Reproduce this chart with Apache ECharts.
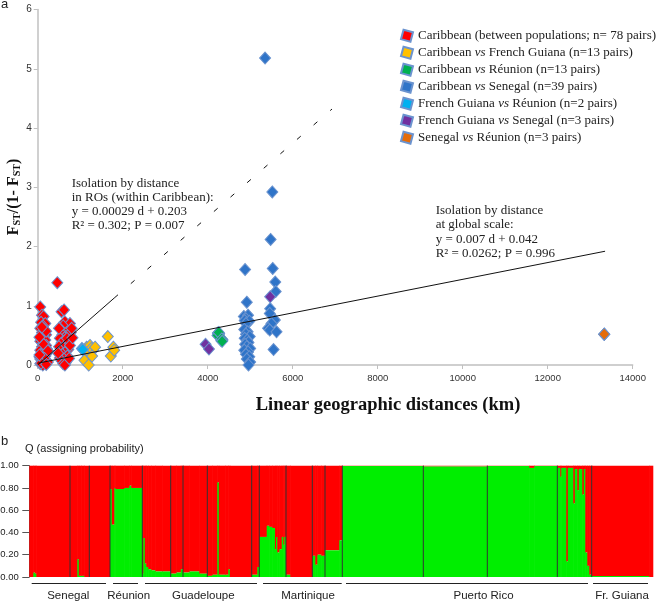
<!DOCTYPE html>
<html><head><meta charset="utf-8">
<script src="https://cdn.jsdelivr.net/npm/echarts@6/dist/echarts.min.js"></script>
<style>html,body{margin:0;padding:0;background:#fff}#c{width:660px;height:601px}</style>
</head><body><div id="c"></div>
<script>
// ---------- Panel a data: [distance km, Fst/(1-Fst)] ----------
const seriesNames = [
  'Caribbean (between populations; n= 78 pairs)',
  'Caribbean vs French Guiana (n=13 pairs)',
  'Caribbean vs Réunion (n=13 pairs)',
  'Caribbean vs Senegal (n=39 pairs)',
  'French Guiana vs Réunion (n=2 pairs)',
  'French Guiana vs Senegal (n=3 pairs)',
  'Senegal vs Réunion (n=3 pairs)'
];
const seriesColors = ['#ff0000','#ffc000','#00b050','#2f74c8','#00b0f0','#7030a0','#e46c0a'];

const caribbeanPairs = [
  [60,0.98],[100,0.84],[140,0.82],[80,0.72],[180,0.70],[120,0.66],[60,0.62],[160,0.59],[100,0.55],[200,0.51],
  [140,0.49],[80,0.45],[180,0.42],[60,0.40],[120,0.36],[200,0.33],[100,0.31],[160,0.28],[60,0.25],[140,0.22],
  [220,0.20],[80,0.18],[180,0.15],[120,0.12],[60,0.10],[200,0.08],[100,0.06],[160,0.04],[60,0.02],[120,0.00],
  [220,0.27],[40,0.14],[240,0.05],[140,0.35],[40,0.47],[200,0.57],[100,0.64],[240,0.24],[160,0.11],[80,0.03],
  [200,0.01],[40,0.17],
  [461,1.39],[560,0.90],[620,0.93],[640,0.73],[760,0.70],[600,0.66],[540,0.60],[700,0.56],[580,0.51],[660,0.48],
  [520,0.45],[740,0.42],[620,0.40],[560,0.37],[680,0.34],[500,0.31],[600,0.29],[720,0.26],[540,0.24],[640,0.21],
  [580,0.18],[700,0.15],[520,0.12],[620,0.10],[560,0.07],[660,0.04],[600,0.02],[640,0.00],[780,0.55],[500,0.62],
  [690,0.45],[760,0.33],[480,0.20],[740,0.11],[820,0.46],[800,0.62]
];
const caribGuianaPairs = [
  [1100,0.08],[1150,0.30],[1200,0.00],[1200,0.22],[1230,0.33],[1260,0.28],[1300,0.25],
  [1350,0.30],[1280,0.15],[1650,0.48],[1720,0.15],[1780,0.30],[1800,0.25]
];
const caribReunionPairs = [
  [4250,0.53],[4260,0.52],[4240,0.54],[4250,0.51],[4270,0.53],[4230,0.50],[4260,0.55],
  [4330,0.42],[4340,0.43],[4320,0.41],[4350,0.42],[4330,0.44],[4340,0.40]
];
const caribSenegalPairs = [
  [5350,5.18],[5520,2.92],[5480,2.12],[5530,1.63],[5590,1.40],[5600,1.24],[5470,0.95],
  [5460,0.87],[5580,0.76],[5500,0.70],[5420,0.62],[5460,0.59],[5620,0.56],[5550,0.26],
  [4880,1.61],[4920,1.06],[4850,0.82],[4950,0.84],[4900,0.78],[4870,0.75],[4980,0.74],
  [4900,0.70],[4860,0.60],[4940,0.56],[4900,0.52],[4990,0.48],[4870,0.45],[4930,0.42],
  [4960,0.38],[4880,0.35],[4920,0.31],[5000,0.28],[4860,0.25],[4950,0.22],[4900,0.18],
  [4980,0.14],[4920,0.10],[5000,0.05],[4960,0.00]
];
const guianaReunionPairs = [[1040,0.28],[1060,0.26]];
const guianaSenegalPairs = [[3950,0.35],[4030,0.27],[5470,1.15]];
const senegalReunionPairs = [[13330,0.52],[13330,0.52],[13330,0.52]];

const ibdCaribbeanSolid = [[0,0.0],[1800,1.13]];
const ibdCaribbeanDashed = [[1800,1.13],[6925,4.32]];
const ibdGlobal = [[0,0.03],[13350,1.92]];

const xTicks = {min:0, max:14000, interval:2000};
const yTicks = {min:0, max:6, interval:1};

// ---------- Panel b data (STRUCTURE, position along bar plot, green = Q of cluster 2) ----------
const structSegments = [
  [0,4,0.0],[4,5.5,0.04],[5.5,7,0.03],[7,48,0.0],[48,49.5,0.16],[49.5,52,0.01],[52,55,0.01],[55,80.7,0.0],
  [80.7,82.5,0.79],[82.5,85,0.47],[85,86,0.80],[86,95,0.79],[95,100,0.80],[100,102,0.82],[102,113,0.80],
  [113,114,0.03],[114,115.5,0.35],[115.5,117,0.12],[117,119,0.09],[119,122,0.07],[122,126,0.06],[126,133,0.05],[133,141.4,0.05],
  [141.4,147,0.03],[147,151.5,0.04],[151.5,153.7,0.07],
  [153.7,160,0.04],[160,170,0.05],[170,178,0.03],
  [178,183,0.01],[183,188,0.02],[188,189.5,0.85],[189.5,196,0.02],[196,199,0.02],[199,200.5,0.07],[200.5,222.4,0.0],
  [222.4,228,0.02],[228,230,0.09],
  [230,237.4,0.36],[237.4,240,0.46],[240,243,0.45],[243,245.7,0.44],[245.7,246.7,0.25],[246.7,248,0.36],[248,250,0.22],[250,252.4,0.25],[252.4,254,0.36],[254,255,0.29],[255,256.7,0.36],
  [256.7,261,0.02],[261,283,0.0],
  [283,286,0.19],[286,288,0.11],[288,292,0.20],[292,295.7,0.19],
  [295.7,310,0.24],[310,313,0.33],
  [313,394,0.997],
  [394,458,0.993],
  [458,500,0.997],[500,505,0.98],[505,528,0.997],
  [528,531,0.98],[531,532,0.90],[532,537,0.98],[537,538.5,0.14],[538.5,544,0.98],[544,545.5,0.66],[545.5,548,0.97],[548,549.5,0.78],[549.5,553,0.97],[553,554.5,0.74],[554.5,556,0.97],[556,558,0.22],[558,560,0.10],[560,562.4,0.02],
  [562.4,620,0.01],[620,623.4,0.0]
];
const structSeparators = [40.7,60,80.7,113,141.4,153.7,178,222.4,230,256.7,283,295.7,313,394,458,528,562.4];
const groupNames = ['Senegal','Réunion','Guadeloupe','Martinique','Puerto Rico','Fr. Guiana'];
const groupStarts = [2.4,83.7,115.7,233.7,316.7,563.7];
const groupEnds = [76.7,108.7,227.7,312.4,558.7,618.7];
const groupLabelAt = [39,99.4,174,278.7,454.2,592.7];
const qTicks = {min:0, max:1, interval:0.2};
const structLength = 623.4;

// ---------- chart ----------
const chart = echarts.init(document.getElementById('c'), null, {renderer:'canvas'});
const serif = 'Liberation Serif';
const sans = 'Liberation Sans';
const pairSets = [caribbeanPairs, caribGuianaPairs, caribReunionPairs, caribSenegalPairs, guianaReunionPairs, guianaSenegalPairs, senegalReunionPairs];

const scatterSeries = pairSets.map((d, i) => ({
  type:'scatter', name:seriesNames[i], data:d, xAxisIndex:0, yAxisIndex:0,
  symbol:'diamond', symbolSize:[11,12],
  itemStyle:{color:seriesColors[i], borderColor:'#6b93cf', borderWidth:1, opacity:1},
  z:3, silent:true
}));
const lineBase = {type:'line', xAxisIndex:0, yAxisIndex:0, showSymbol:false, symbol:'none', silent:true, z:4};

const option = {
  animation:false,
  backgroundColor:'#fff',
  grid:[
    {left:37.7, right:27.3, top:9.5, bottom:236, outerBoundsMode:'none', containLabel:false},
    {left:29.3, right:7.3, top:465.7, bottom:24, outerBoundsMode:'none', containLabel:false}
  ],
  xAxis:[
    {type:'value', gridIndex:0, min:xTicks.min, max:xTicks.max, interval:xTicks.interval,
     splitLine:{show:false},
     axisLine:{lineStyle:{color:'#c0c0c0', width:1.5}},
     axisTick:{show:true, length:4, lineStyle:{color:'#c0c0c0'}},
     axisLabel:{fontFamily:sans, fontSize:9.5, color:'#333', margin:8, formatter:v=>String(v)}},
    {type:'value', gridIndex:1, min:0, max:structLength, show:false}
  ],
  yAxis:[
    {type:'value', gridIndex:0, min:yTicks.min, max:yTicks.max, interval:yTicks.interval,
     splitLine:{show:false},
     axisLine:{show:true, lineStyle:{color:'#c0c0c0', width:1.5}},
     axisTick:{show:true, length:4, lineStyle:{color:'#c0c0c0'}},
     axisLabel:{fontFamily:sans, fontSize:10, color:'#333', margin:6}},
    {type:'value', gridIndex:1, min:qTicks.min, max:qTicks.max, interval:qTicks.interval,
     splitLine:{show:false},
     axisLine:{show:true, lineStyle:{color:'#555', width:1}},
     axisTick:{show:true, length:7, lineStyle:{color:'#555'}},
     axisLabel:{fontFamily:sans, fontSize:9.5, color:'#222', margin:10.5, formatter:v=>v.toFixed(2)}}
  ],
  legend:{
    data:seriesNames, orient:'vertical', left:400, top:28.7, padding:0,
    itemWidth:12, itemHeight:12, itemGap:3, selectedMode:false,
    icon:'path://M2.33,0 L11.03,2.33 L8.7,11.03 L0,8.7 Z',
    formatter:n=>n.replace(' vs ', ' {i|vs} '),
    textStyle:{fontFamily:serif, fontSize:13, color:'#222', lineHeight:12,
      rich:{i:{fontFamily:serif, fontSize:13, fontStyle:'italic', color:'#222', lineHeight:12}}}
  },
  graphic:[
    {type:'text', x:1, y:4, style:{text:'a', fontFamily:sans, fontSize:13, fill:'#222', verticalAlign:'middle'}},
    {type:'text', x:1, y:441, style:{text:'b', fontFamily:sans, fontSize:13, fill:'#222', verticalAlign:'middle'}},
    {type:'text', x:25, y:449, style:{text:'Q (assigning probability)', fontFamily:sans, fontSize:11, fill:'#222', verticalAlign:'middle'}},
    {type:'text', x:71.7, y:176, style:{text:'Isolation by distance\nin ROs (within Caribbean):\ny = 0.00029 d + 0.203\nR² = 0.302; P = 0.007',
      fontFamily:serif, fontSize:13, lineHeight:14.3, fill:'#222'}},
    {type:'text', x:435.7, y:203.5, style:{text:'Isolation by distance\nat global scale:\ny = 0.007 d + 0.042\nR² = 0.0262; P = 0.996',
      fontFamily:serif, fontSize:13, lineHeight:14.3, fill:'#222'}},
    {type:'text', x:388, y:405, style:{text:'Linear geographic distances (km)', fontFamily:serif, fontWeight:'bold', fontSize:18.5,
      fill:'#111', align:'center', verticalAlign:'middle'}},
    {type:'text', x:12, y:197, rotation:Math.PI/2,
      style:{text:'{f|F}{s|ST}{f|/(1- F}{s|ST}{f|)}', align:'center', verticalAlign:'middle',
        rich:{f:{fontFamily:serif, fontWeight:'bold', fontSize:16, fill:'#111', lineHeight:20, verticalAlign:'bottom'},
              s:{fontFamily:serif, fontWeight:'bold', fontSize:10, fill:'#111', lineHeight:14, verticalAlign:'bottom'}}}}
  ],
  series:[
    ...scatterSeries,
    Object.assign({}, lineBase, {data:ibdCaribbeanSolid, lineStyle:{color:'#111', width:1}}),
    Object.assign({}, lineBase, {data:ibdCaribbeanDashed, lineStyle:{color:'#111', width:1, type:[5,17]}}),
    Object.assign({}, lineBase, {data:ibdGlobal, lineStyle:{color:'#111', width:1}}),
    {type:'custom', xAxisIndex:1, yAxisIndex:1, data:structSegments, silent:true, z:2,
     encode:{x:[0,1], y:2},
     renderItem:(params, api) => {
       const x0 = api.value(0), x1 = api.value(1), g = api.value(2);
       const pb = api.coord([x0, 0]), pt = api.coord([x1, 1]), pg = api.coord([x0, g]);
       const w = pt[0] - pb[0] + 0.6;
       return {type:'group', children:[
         {type:'rect', shape:{x:pb[0], y:pt[1], width:w, height:pg[1]-pt[1]}, style:{fill:'#ff0000'}},
         {type:'rect', shape:{x:pb[0], y:pg[1], width:w, height:pb[1]-pg[1]}, style:{fill:'#00ee00'}}
       ]};
     }},
    {type:'custom', xAxisIndex:1, yAxisIndex:1, data:structSeparators.map(v=>[v]), silent:true, z:3,
     encode:{x:0},
     renderItem:(params, api) => {
       const a = api.coord([api.value(0), 0]), b = api.coord([api.value(0), 1]);
       return {type:'line', shape:{x1:a[0], y1:a[1], x2:b[0], y2:b[1]}, style:{stroke:'#333', lineWidth:1}};
     }},
    {type:'custom', xAxisIndex:1, yAxisIndex:1, data:groupStarts.map((s,i)=>[s, groupEnds[i], groupLabelAt[i]]), silent:true, z:3, clip:false,
     encode:{x:[0,1]},
     renderItem:(params, api) => {
       const a = api.coord([api.value(0), 0]), b = api.coord([api.value(1), 0]), c = api.coord([api.value(2), 0]);
       const yl = a[1] + 6.5;
       return {type:'group', children:[
         {type:'line', shape:{x1:a[0], y1:yl, x2:b[0], y2:yl}, style:{stroke:'#222', lineWidth:1}},
         {type:'text', x:c[0], y:yl + 12, style:{text:groupNames[params.dataIndex], fontFamily:sans, fontSize:11.5,
           fill:'#222', align:'center', verticalAlign:'middle'}}
       ]};
     }}
  ]
};
chart.setOption(option);
</script>
</body></html>
